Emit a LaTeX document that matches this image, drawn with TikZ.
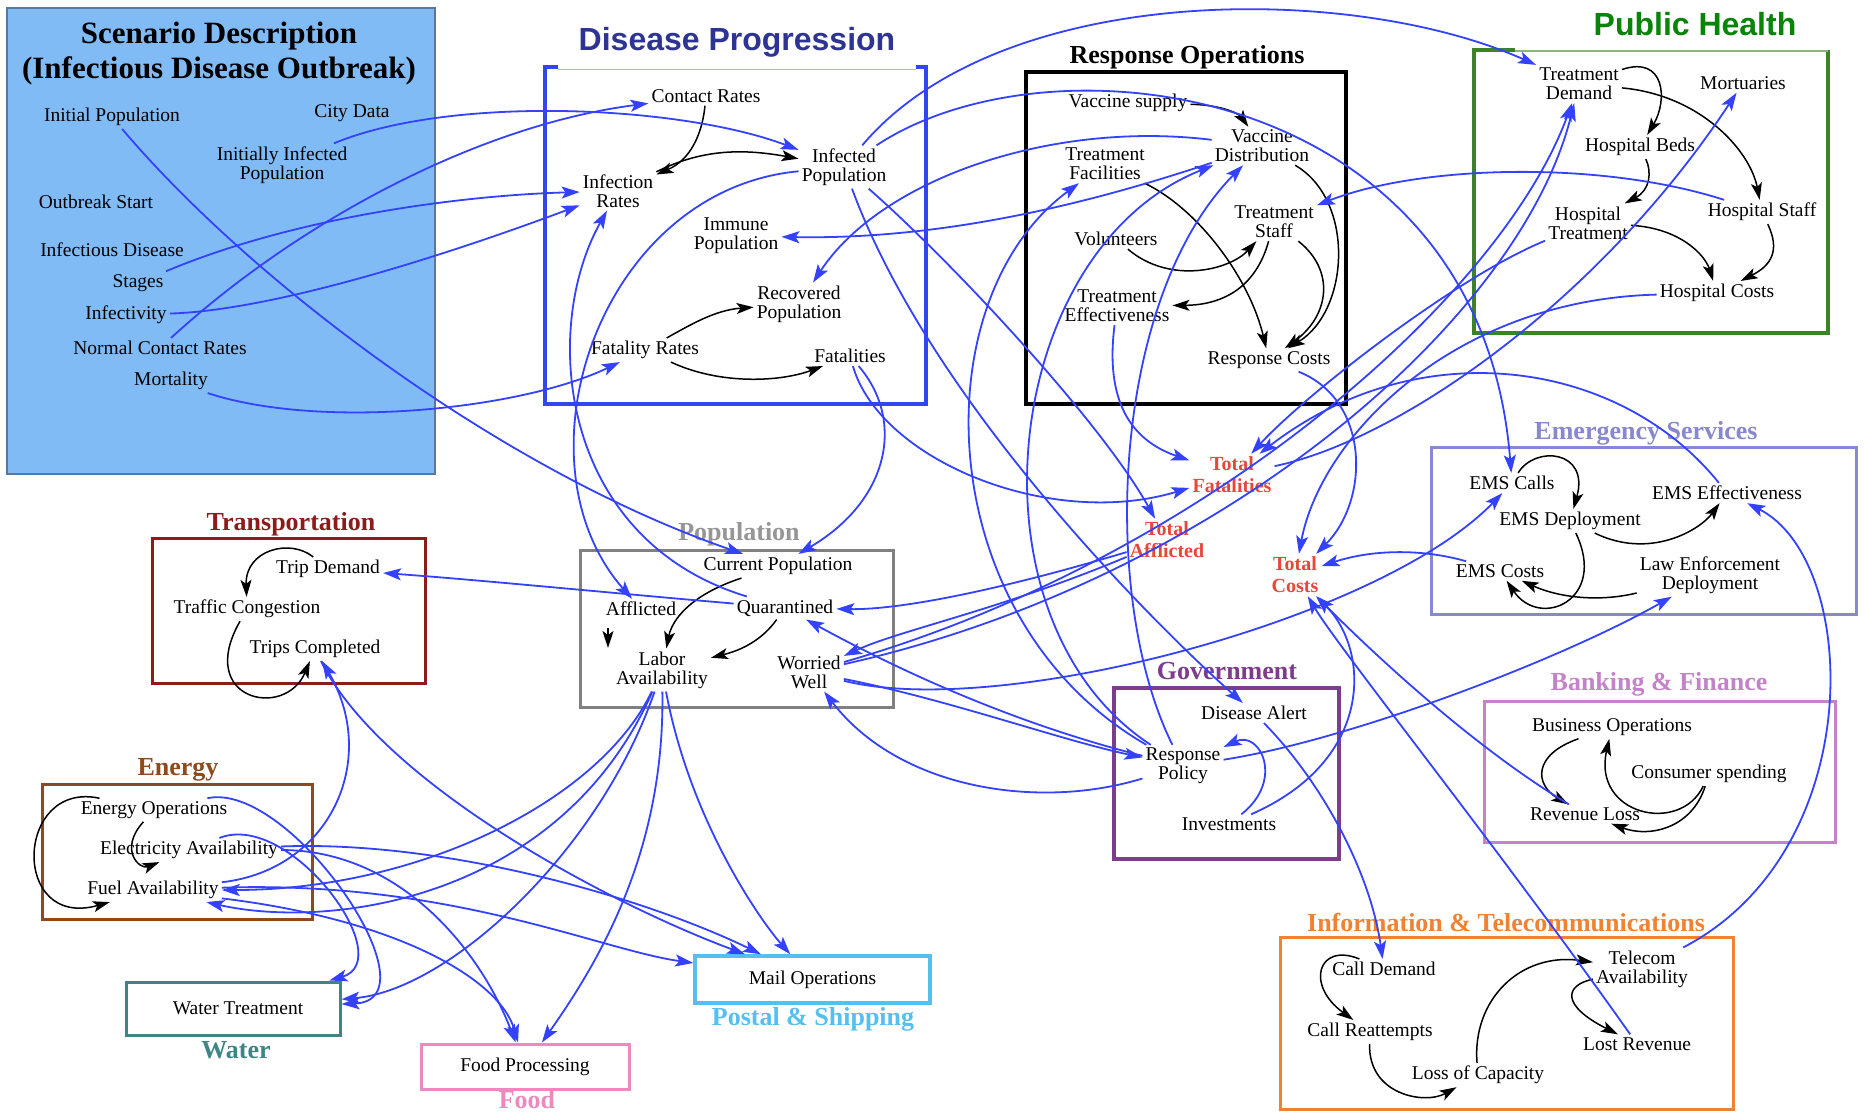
\documentclass[tikz,border=0pt]{standalone}
\usepackage{fontspec}
\setmainfont{Liberation Serif}
\newfontfamily\headsans{Liberation Sans}
\usetikzlibrary{arrows.meta,calc}
\definecolor{linkblue}{RGB}{52,66,255}
\definecolor{scenfill}{RGB}{128,187,245}
\definecolor{scenedge}{RGB}{88,120,160}
\definecolor{dpblue}{RGB}{50,70,240}
\definecolor{dpnavy}{RGB}{45,52,148}
\definecolor{phgreen}{RGB}{8,132,8}
\definecolor{phedge}{RGB}{60,130,40}
\definecolor{esblue}{RGB}{136,136,204}
\definecolor{bfpink}{RGB}{196,130,200}
\definecolor{itorange}{RGB}{240,130,50}
\definecolor{govpurple}{RGB}{125,60,140}
\definecolor{popgray}{RGB}{128,128,128}
\definecolor{poptitle}{RGB}{150,150,150}
\definecolor{trred}{RGB}{140,28,28}
\definecolor{enbrown}{RGB}{140,74,30}
\definecolor{wateal}{RGB}{62,133,133}
\definecolor{foodpink}{RGB}{238,136,190}
\definecolor{postblue}{RGB}{85,192,240}
\definecolor{totred}{RGB}{232,70,60}
\begin{document}
\begin{tikzpicture}[x=1pt,y=1pt,
  lbl/.style={font=\fontsize{19.5}{19}\selectfont, align=center, inner sep=3pt},
  ttl/.style={font=\fontsize{26}{26}\selectfont\bfseries, inner sep=0pt},
  sttl/.style={font=\headsans\fontsize{32}{32}\selectfont\bfseries, inner sep=0pt},
  tot/.style={font=\fontsize{20}{22}\selectfont\bfseries, text=totred, align=center, inner sep=3pt},
  link/.style={draw=linkblue, line width=1.8pt, -{Stealth[length=18pt,width=12pt,inset=4pt]}},
  flow/.style={draw=black, line width=1.5pt, -{Stealth[length=17pt,width=11pt,inset=4pt]}},
  grp/.style={line width=3pt}
]
\useasboundingbox (0,0) rectangle (1864,-1112);
\fill[white] (0,0) rectangle (1864,-1112);

% ---------- group frames ----------
\draw[scenedge, fill=scenfill, line width=2pt] (7,-8) rectangle (435,-474);
\draw[dpblue, line width=3.5pt] (558,-67) -- (545,-67) -- (545,-404) -- (926,-404) -- (926,-67) -- (916,-67);
\draw[dpblue!40, line width=1pt] (558,-69) -- (916,-69);
\draw[black, line width=3.5pt] (1026,-72) rectangle (1346,-404);
\draw[phedge, line width=3.5pt] (1515,-50) -- (1474,-50) -- (1474,-333) -- (1828,-333) -- (1828,-50);
\draw[phedge!60, line width=1.2pt] (1515,-51) -- (1828,-51);
\draw[esblue, grp] (1431,-447) rectangle (1856,-614);
\draw[popgray, grp] (580,-550) rectangle (893,-707);
\draw[trred, grp] (152,-538) rectangle (425,-683);
\draw[enbrown, grp] (42,-784) rectangle (312,-919);
\draw[govpurple, line width=3.5pt] (1114,-688) rectangle (1339,-859);
\draw[bfpink, grp] (1484,-701) rectangle (1835,-842);
\draw[itorange, grp] (1280,-937) rectangle (1733,-1109);

% ---------- group titles ----------
\node[font=\fontsize{31}{35}\selectfont\bfseries, align=center] (scent) at (219,-54) {Scenario Description\\(Infectious Disease Outbreak)};
\node[sttl, text=dpnavy] (dpt) at (737,-42) {Disease Progression};
\node[ttl] (rot) at (1187,-57) {Response Operations};
\node[sttl, text=phgreen] (pht) at (1695,-24) {Public Health};
\node[ttl, text=esblue] (est) at (1646,-433) {Emergency Services};
\node[ttl, text=poptitle] (popt) at (739,-534) {Population};
\node[ttl, text=trred] (trt) at (291,-524) {Transportation};
\node[ttl, text=enbrown] (ent) at (178,-770) {Energy};
\node[ttl, text=wateal] (wat) at (236,-1050) {Water};
\node[ttl, text=foodpink] (fot) at (527,-1100) {Food};
\node[ttl, text=postblue] (pst) at (813,-1019) {Postal \& Shipping};
\node[ttl, text=govpurple] (govt) at (1227,-671) {Government};
\node[ttl, text=bfpink] (bft) at (1659,-684) {Banking \& Finance};
\node[ttl, text=itorange] (itt) at (1506,-922) {Information \& Telecommunications};

% ---------- scenario variables ----------
\node[lbl] (ip) at (112,-117) {Initial Population};
\node[lbl] (cd) at (352,-113) {City Data};
\node[lbl] (iip) at (282,-165) {Initially Infected\\Population};
\node[lbl] (os) at (96,-202) {Outbreak Start};
\node[lbl] (ids) at (112,-250) {Infectious Disease};
\node[lbl] (idst) at (138,-283) {Stages};
\node[lbl] (inf) at (126,-315) {Infectivity};
\node[lbl] (ncr) at (160,-348) {Normal Contact Rates};
\node[lbl] (mort) at (171,-381) {Mortality};

% ---------- disease progression ----------
\node[lbl] (cr) at (706,-96) {Contact Rates};
\node[lbl] (ir) at (618,-191) {Infection\\Rates};
\node[lbl] (ipp) at (844,-167) {Infected\\Population};
\node[lbl] (imm) at (736,-236) {Immune\\Population};
\node[lbl] (rec) at (799,-304) {Recovered\\Population};
\node[lbl] (fr) at (645,-350) {Fatality Rates};
\node[lbl] (fat) at (850,-356) {Fatalities};

% ---------- response operations ----------
\node[lbl] (vs) at (1128,-103) {Vaccine supply};
\node[lbl] (vd) at (1262,-146) {Vaccine\\Distribution};
\node[lbl] (tf) at (1105,-164) {Treatment\\Facilities};
\node[lbl] (ts) at (1274,-222) {Treatment\\Staff};
\node[lbl] (vol) at (1116,-239) {Volunteers};
\node[lbl] (te) at (1117,-306) {Treatment\\Effectiveness};
\node[lbl] (rc) at (1269,-360) {Response Costs};

% ---------- public health ----------
\node[lbl] (td) at (1579,-84) {Treatment\\Demand};
\node[lbl] (mtu) at (1743,-83) {Mortuaries};
\node[lbl] (hb) at (1640,-147) {Hospital Beds};
\node[lbl] (ht) at (1588,-223) {Hospital\\Treatment};
\node[lbl] (hs) at (1762,-212) {Hospital Staff};
\node[lbl] (hc) at (1717,-293) {Hospital Costs};

% ---------- totals ----------
\node[tot] (tfat) at (1232,-475) {Total\\Fatalities};
\node[tot] (taf) at (1167,-540) {Total\\Afflicted};
\node[tot] (tco) at (1295,-575) {Total\\Costs};

% ---------- emergency services ----------
\node[lbl] (emc) at (1512,-483) {EMS Calls};
\node[lbl] (emd) at (1570,-521) {EMS Deployment};
\node[lbl] (eme) at (1727,-493) {EMS Effectiveness};
\node[lbl] (emco) at (1500,-571) {EMS Costs};
\node[lbl] (led) at (1710,-575) {Law Enforcement\\Deployment};

% ---------- population ----------
\node[lbl] (cp) at (778,-566) {Current Population};
\node[lbl] (aff) at (641,-609) {Afflicted};
\node[lbl] (qua) at (785,-608) {Quarantined};
\node[lbl] (la) at (662,-670) {Labor\\Availability};
\node[lbl] (ww) at (809,-672) {Worried\\Well};

% ---------- transportation ----------
\node[lbl] (trd) at (328,-569) {Trip Demand};
\node[lbl] (tc) at (247,-609) {Traffic Congestion};
\node[lbl] (tcomp) at (315,-649) {Trips Completed};

% ---------- energy ----------
\node[lbl] (eo) at (154,-810) {Energy Operations};
\node[lbl] (ea) at (189,-850) {Electricity Availability};
\node[lbl] (fa) at (153,-890) {Fuel Availability};

% ---------- single-variable sectors ----------
\node[lbl, draw=wateal, line width=3pt, minimum width=214pt, minimum height=53pt] (wt) at (233,-1008.5) {\hspace*{10pt}Water Treatment};
\node[lbl, draw=foodpink, line width=3pt, minimum width=208pt, minimum height=45pt] (fp) at (525,-1066.5) {Food Processing};
\node[lbl, draw=postblue, line width=3.5pt, minimum width=235pt, minimum height=47pt] (mo) at (812.5,-979.5) {Mail Operations};

% ---------- government ----------
\node[lbl] (da) at (1254,-713) {Disease Alert};
\node[lbl] (rp) at (1183,-766) {Response\\Policy};
\node[lbl] (inv) at (1229,-824) {Investments};

% ---------- banking & finance ----------
\node[lbl] (bo) at (1612,-727) {Business Operations};
\node[lbl] (cs) at (1709,-774) {Consumer spending};
\node[lbl] (rl) at (1585,-814) {Revenue Loss};

% ---------- information & telecom ----------
\node[lbl] (cdm) at (1384,-969) {Call Demand};
\node[lbl] (cre) at (1370,-1032) {Call Reattempts};
\node[lbl] (loc) at (1478,-1075) {Loss of Capacity};
\node[lbl] (tea) at (1642,-969) {Telecom\\Availability};
\node[lbl] (lr) at (1637,-1044) {Lost Revenue};

% ---------- causal links inside sectors ----------
\draw[flow] (cr) .. controls (702,-135) and (690,-160) .. (ir);
\draw[flow] (ir) .. controls (700,-150) and (740,-148) .. (ipp);
\draw[flow] (fr) .. controls (690,-325) and (715,-310) .. (rec);
\draw[flow] (fr) .. controls (720,-385) and (780,-382) .. (fat);
\draw[flow] (vs) .. controls (1225,-105) and (1240,-115) .. (vd);
\draw[flow] (tf) .. controls (1200,-210) and (1250,-280) .. (rc);
\draw[flow] (vol) .. controls (1170,-285) and (1230,-270) .. (ts);
\draw[flow] (ts) .. controls (1255,-290) and (1220,-305) .. (te);
\draw[flow] (ts) .. controls (1335,-270) and (1330,-315) .. (rc);
\draw[flow] (vd) .. controls (1355,-200) and (1350,-310) .. (rc);
\draw[flow] (td) .. controls (1665,-55) and (1668,-100) .. (hb);
\draw[flow] (td) .. controls (1700,-95) and (1750,-150) .. (hs);
\draw[flow] (hb) .. controls (1652,-172) and (1650,-190) .. (ht);
\draw[flow] (ht) .. controls (1680,-228) and (1705,-255) .. (hc);
\draw[flow] (hs) .. controls (1780,-250) and (1772,-265) .. (hc);
\draw[flow] (emc) .. controls (1535,-445) and (1590,-450) .. (emd);
\draw[flow] (emd) .. controls (1650,-560) and (1700,-530) .. (eme);
\draw[flow] (emd) .. controls (1608,-600) and (1540,-630) .. (emco);
\draw[flow] (led) .. controls (1600,-602) and (1560,-598) .. (emco);
\draw[flow] (cp) .. controls (690,-595) and (672,-620) .. (la);
\draw[flow] (qua) .. controls (762,-640) and (742,-650) .. (la);
\coordinate (affdn) at (608,-648);
\draw[flow] ([xshift=-33pt,yshift=-9pt]aff.south) -- (affdn);
\draw[flow] (trd) .. controls (290,-538) and (245,-550) .. (tc);
\draw[flow] (tc) .. controls (195,-700) and (285,-720) .. (tcomp);
\draw[flow] (eo) .. controls (15,-780) and (10,-930) .. (fa);
\draw[flow] (eo) .. controls (118,-850) and (140,-870) .. (ea);
\draw[flow] (bo) .. controls (1532,-755) and (1535,-785) .. (rl);
\draw[flow] (cs) .. controls (1680,-835) and (1592,-815) .. (bo);
\draw[flow] (cs) .. controls (1692,-828) and (1650,-838) .. (rl);
\draw[flow] (cdm) .. controls (1318,-942) and (1305,-985) .. (cre);
\draw[flow] (cre) .. controls (1368,-1095) and (1425,-1105) .. (loc);
\draw[flow] (loc) .. controls (1472,-1000) and (1520,-952) .. (tea);
\draw[flow] (tea) .. controls (1565,-985) and (1560,-1005) .. (lr);

% ---------- cross-sector links ----------
\draw[link] (iip) .. controls (450,-95) and (680,-105) .. (ipp);
\draw[link] (ncr) .. controls (300,-220) and (480,-125) .. (cr);
\draw[link] (idst) .. controls (300,-215) and (470,-195) .. (ir);
\draw[link] (inf) .. controls (280,-310) and (460,-250) .. (ir);
\draw[link] (mort) .. controls (320,-430) and (520,-410) .. (fr);
\draw[link] (ip) .. controls (250,-280) and (500,-470) .. (cp);
\draw[link] (ipp) .. controls (1000,18) and (1350,18) .. (td);
\draw[link] (ipp) .. controls (1050,-30) and (1480,-80) .. (emc);
\draw[link] (vd) .. controls (1050,-120) and (880,-180) .. (rec);
\draw[link] (vd) .. controls (1100,-200) and (950,-240) .. (imm);
\draw[link] (ipp) .. controls (950,-260) and (1100,-420) .. (taf);
\draw[link] (ipp) .. controls (930,-400) and (1150,-620) .. (da);
\draw[link] (fat) .. controls (880,-460) and (1050,-530) .. (tfat);
\draw[link] (fat) .. controls (905,-420) and (890,-500) .. (cp);
\draw[link] (te) .. controls (1105,-400) and (1130,-440) .. (tfat);
\draw[link] (qua) .. controls (560,-540) and (540,-330) .. (ir);
\draw[link] (ipp) .. controls (600,-190) and (510,-460) .. (aff);
\draw[link] (qua) .. controls (600,-592) and (480,-580) .. (trd);
\draw[link] (rc) .. controls (1370,-400) and (1370,-500) .. (tco);
\draw[link] (hc) .. controls (1450,-300) and (1320,-440) .. (tco);
\draw[link] (emco) .. controls (1420,-548) and (1370,-550) .. (tco);
\draw[link] (lr) .. controls (1500,-850) and (1340,-650) .. (tco);
\draw[link] (rl) .. controls (1465,-742) and (1360,-640) .. (tco);
\draw[link] (inv) .. controls (1375,-760) and (1370,-650) .. (tco);
\draw[link] (rp) .. controls (930,-620) and (920,-300) .. (tf);
\draw[link] (rp) .. controls (960,-620) and (1000,-250) .. (vd);
\draw[link] (rp) .. controls (1100,-600) and (1110,-300) .. (vd);
\draw[link] (rp) .. controls (1040,-810) and (900,-790) .. (ww);
\draw[link] (rp) .. controls (1000,-720) and (880,-660) .. (qua);
\draw[link] (ww) .. controls (950,-700) and (1060,-740) .. (rp);
\draw[link] (da) .. controls (1320,-780) and (1370,-870) .. (cdm);
\draw[link] (rp) .. controls (1350,-740) and (1560,-660) .. (led);
\draw[link] (ww) .. controls (1000,-720) and (1380,-620) .. (emc);
\draw[link] (tea) .. controls (1870,-850) and (1860,-560) .. (eme);
\draw[link] (eme) .. controls (1620,-360) and (1420,-330) .. (tfat);
\draw[link] (hs) .. controls (1600,-160) and (1420,-165) .. (ts);
\draw[link] (ht) .. controls (1450,-280) and (1300,-400) .. (tfat);
\draw[link] (tfat) .. controls (1400,-440) and (1600,-300) .. (mtu);
\draw[link] (ww) .. controls (1200,-560) and (1500,-300) .. (td);
\draw[link] (ww) .. controls (1220,-580) and (1520,-320) .. (td);
\draw[link] (taf) .. controls (1000,-590) and (900,-610) .. (qua);
\draw[link] (taf) .. controls (1000,-610) and (900,-630) .. (ww);
\draw[link] (inv) .. controls (1285,-780) and (1260,-730) .. (rp);
\draw[link] (la) .. controls (600,-800) and (420,-890) .. (fa);
\draw[link] (la) .. controls (600,-850) and (450,-990) .. (wt);
\draw[link] (la) .. controls (665,-850) and (600,-960) .. (fp);
\draw[link] (la) .. controls (690,-820) and (760,-920) .. (mo);
\draw[link] (la) .. controls (560,-900) and (330,-930) .. (fa);
\draw[link] (tcomp) .. controls (380,-780) and (600,-900) .. (mo);
\draw[link] (fa) .. controls (330,-870) and (380,-760) .. (tcomp);
\draw[link] (ea) .. controls (290,-810) and (400,-960) .. (wt);
\draw[link] (eo) .. controls (290,-780) and (440,-1000) .. (wt);
\draw[link] (ea) .. controls (450,-840) and (650,-900) .. (mo);
\draw[link] (ea) .. controls (400,-850) and (480,-950) .. (fp);
\draw[link] (fa) .. controls (450,-880) and (600,-950) .. (mo);
\draw[link] (fa) .. controls (400,-920) and (500,-980) .. (fp);
\end{tikzpicture}
\end{document}
